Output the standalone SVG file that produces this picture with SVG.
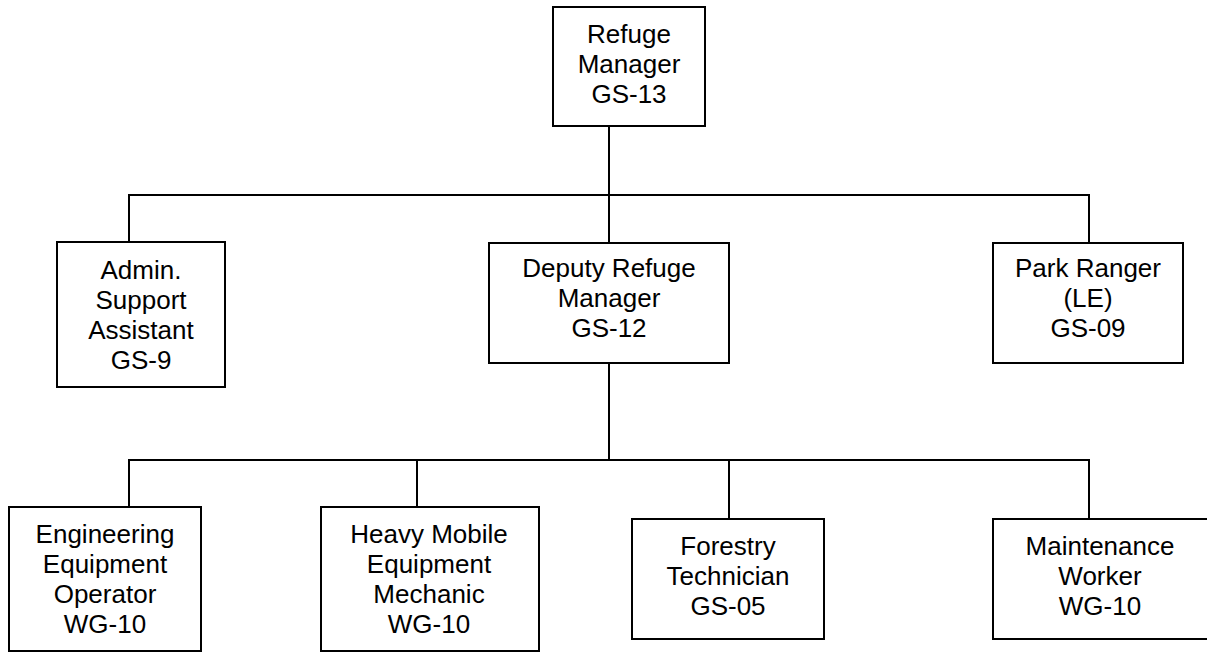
<svg xmlns="http://www.w3.org/2000/svg" width="1207" height="652" viewBox="0 0 1207 652">
<style>
.box{fill:#fff;stroke:#000;stroke-width:2}
.ln{fill:none;stroke:#000;stroke-width:2}
text{font-family:"Liberation Sans",Arial,sans-serif;font-size:26px;fill:#000;text-anchor:middle}
</style>
<rect width="1207" height="652" fill="#fff"/>
<g id="connectors">
<path class="ln" d="M609 126V195M129 242V195H1089V243M609 195V243"/>
<path class="ln" d="M609 363V460M129 507V460H1089V519M417 460V507M729 460V519"/>
</g>
<g id="refuge-manager">
<rect class="box" x="553" y="7" width="152" height="119"/>
<text x="629" y="43">Refuge</text><text x="629" y="73">Manager</text><text x="629" y="103">GS-13</text>
</g>
<g id="admin-support">
<rect class="box" x="57" y="242" width="168" height="145"/>
<text x="141" y="279">Admin.</text><text x="141" y="309">Support</text><text x="141" y="339">Assistant</text><text x="141" y="369">GS-9</text>
</g>
<g id="deputy-manager">
<rect class="box" x="489" y="243" width="240" height="120"/>
<text x="609" y="277">Deputy Refuge</text><text x="609" y="307">Manager</text><text x="609" y="337">GS-12</text>
</g>
<g id="park-ranger">
<rect class="box" x="993" y="243" width="190" height="120"/>
<text x="1088" y="277">Park Ranger</text><text x="1088" y="307">(LE)</text><text x="1088" y="337">GS-09</text>
</g>
<g id="engineering-operator">
<rect class="box" x="9" y="507" width="192" height="144"/>
<text x="105" y="543">Engineering</text><text x="105" y="573">Equipment</text><text x="105" y="603">Operator</text><text x="105" y="633">WG-10</text>
</g>
<g id="heavy-mechanic">
<rect class="box" x="321" y="507" width="218" height="144"/>
<text x="429" y="543">Heavy Mobile</text><text x="429" y="573">Equipment</text><text x="429" y="603">Mechanic</text><text x="429" y="633">WG-10</text>
</g>
<g id="forestry-technician">
<rect class="box" x="632" y="519" width="192" height="120"/>
<text x="728" y="555">Forestry</text><text x="728" y="585">Technician</text><text x="728" y="615">GS-05</text>
</g>
<g id="maintenance-worker">
<rect class="box" x="993" y="519" width="220" height="120"/>
<text x="1100" y="555">Maintenance</text><text x="1100" y="585">Worker</text><text x="1100" y="615">WG-10</text>
</g>
</svg>
